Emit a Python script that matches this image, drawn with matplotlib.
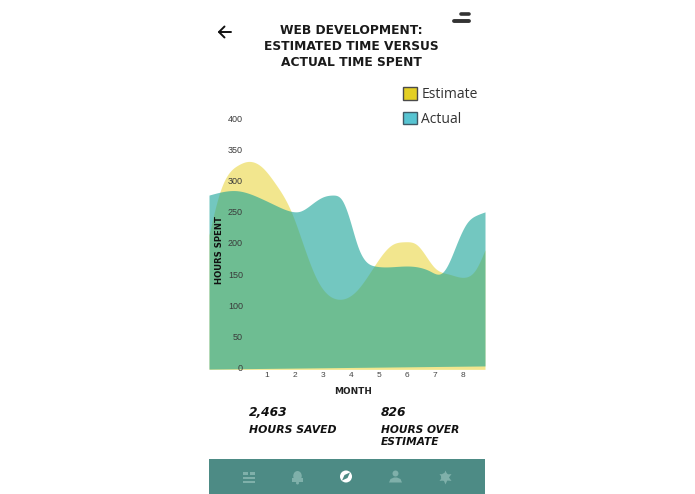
# -*- coding: utf-8 -*-
# Web development: estimated vs actual time spent (phone screen mockup)

import numpy as np
import matplotlib
matplotlib.use('Agg')
import matplotlib.pyplot as plt
from matplotlib.patches import Patch, Rectangle, Circle, Ellipse, Polygon

# ----- data -----
EST_MONTH = [-1.07, -0.68, -0.04, 0.32, 0.82, 1.29, 1.86, 2.36, 2.79, 3.5, 4.21, 4.86,
             5.46, 5.93, 6.36, 7.0, 7.5, 8.07, 8.45, 8.79]
EST_HOURS = [213, 282, 325, 331, 322, 296, 251, 189, 141, 110, 124, 165,
             197, 202, 197, 160, 150, 145, 157, 189]

ACT_MONTH = [-1.07, -0.07, 0.82, 1.29, 1.86, 2.18, 2.64, 3.0, 3.36, 3.68, 3.96, 4.25,
             4.57, 4.86, 5.93, 6.82, 7.25, 7.46, 7.79, 8.14, 8.5, 8.79]
ACT_HOURS = [277, 284, 271, 261, 251, 251, 264, 274, 277, 269, 237, 194,
             169, 163, 163, 155, 152, 165, 200, 232, 245, 250]
ACT_BASE = [-2.5, 2.5]   # bottom edge of the actual area, left and right

MONTH_TICKS = [1, 2, 3, 4, 5, 6, 7, 8]
HOUR_TICKS = [0, 50, 100, 150, 200, 250, 300, 350, 400]

TITLE_LINES = ['WEB DEVELOPMENT:', 'ESTIMATED TIME VERSUS', 'ACTUAL TIME SPENT']

YELLOW = '#e6cf1f'
TEAL = '#16a296'
BAND = '#4d8b85'
DIM = '#7fb0aa'
FONT = 'Liberation Sans'
WIDE = 'DejaVu Sans'
W, H = 695, 494


def smooth(xs, ys, grid):
    # natural cubic spline through the read points
    xs = np.asarray(xs, float)
    ys = np.asarray(ys, float)
    n = len(xs)
    h = np.diff(xs)
    A = np.zeros((n, n))
    b = np.zeros(n)
    A[0, 0] = A[-1, -1] = 1
    for k in range(1, n - 1):
        A[k, k - 1] = h[k - 1]
        A[k, k] = 2 * (h[k - 1] + h[k])
        A[k, k + 1] = h[k]
        b[k] = 6 * ((ys[k + 1] - ys[k]) / h[k] - (ys[k] - ys[k - 1]) / h[k - 1])
    c = np.linalg.solve(A, b)
    i = np.clip(np.searchsorted(xs, grid) - 1, 0, n - 2)
    a0 = (xs[i + 1] - grid) / h[i]
    a1 = (grid - xs[i]) / h[i]
    return (a0 * ys[i] + a1 * ys[i + 1]
            + ((a0**3 - a0) * c[i] + (a1**3 - a1) * c[i + 1]) * h[i]**2 / 6)


fig = plt.figure(figsize=(W / 100, H / 100), dpi=100, facecolor='white')

# ----- chart, px 209..485 wide, zero at py 367.5, 400 at py 119 -----
top_px, bottom_px = 105, 370
ax = fig.add_axes([209 / W, 1 - bottom_px / H, 276 / W, (bottom_px - top_px) / H])
ax.patch.set_alpha(0)
ax.set_xlim(-1.07, 8.79)
ax.set_ylim((367.5 - bottom_px) / 0.6225, (367.5 - top_px) / 0.6225)
for spine in ax.spines.values():
    spine.set_visible(False)

grid = np.linspace(-1.07, 8.79, 500)
ax.fill_between(grid, -3, smooth(EST_MONTH, EST_HOURS, grid), color=YELLOW, alpha=0.5, lw=0)
ax.fill_between(grid, np.linspace(ACT_BASE[0], ACT_BASE[1], 500), smooth(ACT_MONTH, ACT_HOURS, grid),
                color=TEAL, alpha=0.6, lw=0)

ax.set_xticks(MONTH_TICKS)
ax.set_yticks(HOUR_TICKS)
ax.tick_params(axis='x', length=0, pad=1.5, labelsize=6, labelcolor='#444444')
ax.tick_params(axis='y', length=0, pad=-24.5, labelsize=6.5, labelcolor='#3a3a3a')
for lab in ax.get_xticklabels() + ax.get_yticklabels():
    lab.set_fontfamily(FONT)

# ----- overlay in pixel coordinates for the app chrome -----
ui = fig.add_axes([0, 0, 1, 1], zorder=3)
ui.set_xlim(0, W)
ui.set_ylim(H, 0)
ui.axis('off')
ui.patch.set_alpha(0)

for line, y in zip(TITLE_LINES, [31, 47, 62]):
    ui.text(351, y, line, ha='center', va='center', family=WIDE, weight='bold',
            fontsize=8.8, color='#1a1a1a')

ui.text(219, 250, 'HOURS SPENT', rotation=90, ha='center', va='center', family=WIDE,
        weight='bold', fontsize=6.1, color='#111111')
ui.text(353, 391, 'MONTH', ha='center', va='center', family=WIDE, weight='bold',
        fontsize=6.4, color='#222222')

# legend
leg = ui.legend(handles=[Patch(facecolor='#e3cf24', edgecolor='#4a4a4a', lw=1, label='Estimate'),
                         Patch(facecolor='#57c4d2', edgecolor='#3f5a66', lw=1, label='Actual')],
                loc='upper left', bbox_to_anchor=(399 / W, 1 - 83 / H), frameon=False,
                handlelength=1.0, handleheight=1.0, handletextpad=0.3, labelspacing=0.68,
                borderpad=0.3, borderaxespad=0, prop={'family': 'Open Sans', 'size': 10})
for t in leg.get_texts():
    t.set_color('#333333')

# back arrow
ui.plot([219, 231], [32, 32], color='#111111', lw=1.4, solid_capstyle='round')
ui.plot([224.5, 219, 224.5], [26.5, 32, 37.5], color='#111111', lw=1.4, solid_capstyle='round')

# top right menu
ui.plot([461, 469], [14, 14], color='#333333', lw=2.6, solid_capstyle='round')
ui.plot([454, 469], [21.5, 21.5], color='#333333', lw=2.8, solid_capstyle='round')

# stats
STAT_STYLE = dict(family=WIDE, weight='bold', style='italic', va='baseline', color='#111111')
ui.text(249, 415.5, '2,463', fontsize=8.8, **STAT_STYLE)
ui.text(249, 433, 'HOURS SAVED', fontsize=7.8, **STAT_STYLE)
ui.text(381, 415.5, '826', fontsize=8.8, **STAT_STYLE)
ui.text(381, 433, 'HOURS OVER', fontsize=7.7, **STAT_STYLE)
ui.text(381, 445, 'ESTIMATE', fontsize=7.7, **STAT_STYLE)

# bottom navigation bar
ui.add_patch(Rectangle((209, 459), 276, 35, facecolor=BAND, lw=0))

# list icon
ui.add_patch(Rectangle((243, 472), 5, 3, facecolor=DIM, lw=0))
ui.add_patch(Rectangle((250, 472), 5, 3, facecolor=DIM, lw=0))
ui.add_patch(Rectangle((243, 477), 12, 2, facecolor=DIM, lw=0))
ui.add_patch(Rectangle((243, 481), 12, 2, facecolor=DIM, lw=0))
# bell icon
ui.add_patch(Ellipse((297.5, 476), 8.5, 10, facecolor=DIM, lw=0))
ui.add_patch(Rectangle((292, 478), 11, 3.5, facecolor=DIM, lw=0))
ui.add_patch(Circle((297.5, 483), 1.5, facecolor=DIM, lw=0))
# compass icon
ui.add_patch(Circle((346, 476.5), 6, facecolor='white', lw=0))
ui.add_patch(Polygon([(350, 472.5), (347.5, 478), (342, 480.5), (344.5, 475)], facecolor=BAND, lw=0))
# person icon
ui.add_patch(Circle((395.5, 473.5), 3, facecolor=DIM, lw=0))
ui.add_patch(Polygon([(389, 482.5), (390.5, 479), (394, 477.5), (397, 477.5), (400.5, 479),
                      (402, 482.5)], facecolor=DIM, lw=0))
# gear icon
ui.plot([445], [477], marker=(6, 1, 0), ms=10, color=DIM, mew=0)
ui.add_patch(Circle((445, 477), 4, facecolor=DIM, lw=0))
ui.add_patch(Circle((445, 477), 1.8, facecolor=BAND, lw=0))

fig.savefig('out.png', dpi=100, facecolor='white')
